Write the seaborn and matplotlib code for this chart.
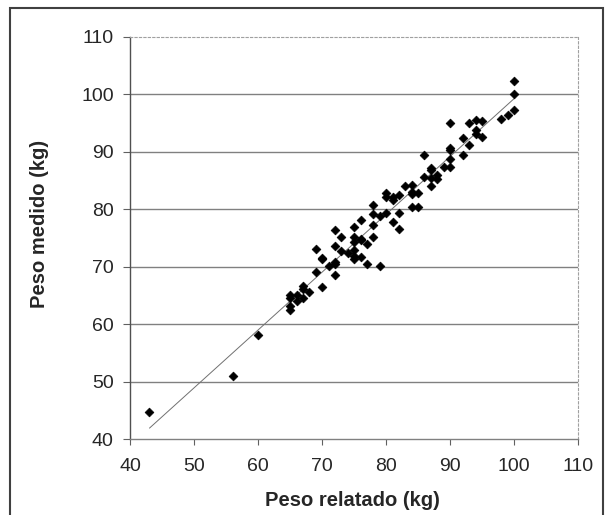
import matplotlib
matplotlib.use("Agg")
import matplotlib.pyplot as plt
import numpy as np
import pandas as pd
import seaborn as sns
from matplotlib.patches import Rectangle

sns.set_style("white")
plt.rcParams["font.family"] = ["Liberation Sans", "DejaVu Sans"]

# peso relatado (kg) x peso medido (kg)
peso_relatado = [43, 56, 60, 65, 65, 65, 65, 66, 66, 67, 67, 67, 68, 69, 69,
                 70, 70, 70, 71, 72, 72, 72, 72, 72, 73, 73, 74, 75, 75,
                 75, 75, 75, 75, 76, 76, 76, 76, 77, 77, 78, 78, 78, 78,
                 79, 79, 80, 80, 80, 81, 81, 81, 82, 82, 82, 83, 84, 84,
                 84, 84, 85, 85, 86, 86, 87, 87, 87, 87, 88, 88, 89, 90,
                 90, 90, 90, 90, 92, 92, 93, 93, 94, 94, 94, 95, 95, 98,
                 99, 100, 100, 100]
peso_medido = [44.7, 51.0, 58.1, 65.0, 64.6, 63.2, 62.4, 65.1, 64.0, 66.6, 66.1, 64.5, 65.6, 73.0, 69.0,
               71.6, 71.3, 66.4, 70.1, 76.4, 73.6, 70.8, 70.4, 68.6, 75.2, 72.8, 72.3, 71.9, 71.4,
               76.9, 75.1, 74.3, 72.9, 78.2, 74.8, 74.6, 71.7, 74.0, 70.4, 80.7, 79.2, 77.3, 75.1,
               78.8, 70.1, 82.8, 82.1, 79.4, 82.1, 81.6, 77.7, 82.5, 79.4, 76.5, 84.0, 84.2, 83.0,
               82.6, 80.4, 82.9, 80.3, 89.4, 85.6, 87.1, 86.9, 85.5, 84.0, 85.9, 85.2, 87.4, 95.0,
               90.6, 90.3, 88.8, 87.3, 92.4, 89.5, 95.0, 91.1, 95.5, 93.7, 93.1, 95.3, 92.6, 95.7,
               96.4, 102.3, 100.0, 97.3]

df = pd.DataFrame({"relatado": peso_relatado, "medido": peso_medido})

fig = plt.figure(figsize=(6.1, 5.15), dpi=100)
ax = fig.add_axes([0.2136, 0.1472, 0.7339, 0.7815])

for v in range(50, 110, 10):
    ax.axhline(v, color="#808080", lw=1.0, zorder=0)

sns.regplot(data=df, x="relatado", y="medido", ax=ax, scatter=False, ci=None,
            line_kws={"color": "#707070", "lw": 0.7})
sns.scatterplot(data=df, x="relatado", y="medido", ax=ax, marker="D", s=20,
                color="black", edgecolor="black", linewidth=0.5, zorder=3)

ax.set_xlim(40, 110)
ax.set_ylim(40, 110)
ax.set_xticks(range(40, 111, 10))
ax.set_yticks(range(40, 111, 10))
ax.tick_params(axis="both", labelsize=14, width=0.8, color="#606060",
               direction="out", left=True, bottom=True)
ax.tick_params(axis="x", length=4.3, pad=9)
ax.tick_params(axis="y", length=5, pad=7)

for side in ["top", "right"]:
    ax.spines[side].set_visible(True)
    ax.spines[side].set_linestyle((0, (2, 2)))
    ax.spines[side].set_color("#a0a0a0")
    ax.spines[side].set_linewidth(0.8)
ax.spines["left"].set_color("#505050")
ax.spines["bottom"].set_color("#808080")
for side in ["left", "bottom"]:
    ax.spines[side].set_linewidth(1.0)

ax.set_xlabel("Peso relatado (kg)", fontsize=14.5, fontweight="bold")
ax.set_ylabel("Peso medido (kg)", fontsize=14.5, fontweight="bold")
ax.xaxis.set_label_coords(0.497, -0.1287)
ax.yaxis.set_label_coords(-0.182, 0.535)

# outer frame of the chart
fig.patches.append(Rectangle((10 / 610, -0.05), 593 / 610, 1.05 - 8 / 515,
                             transform=fig.transFigure, fill=False,
                             edgecolor="#404040", lw=1.5))

fig.savefig("out.png", dpi=100)
